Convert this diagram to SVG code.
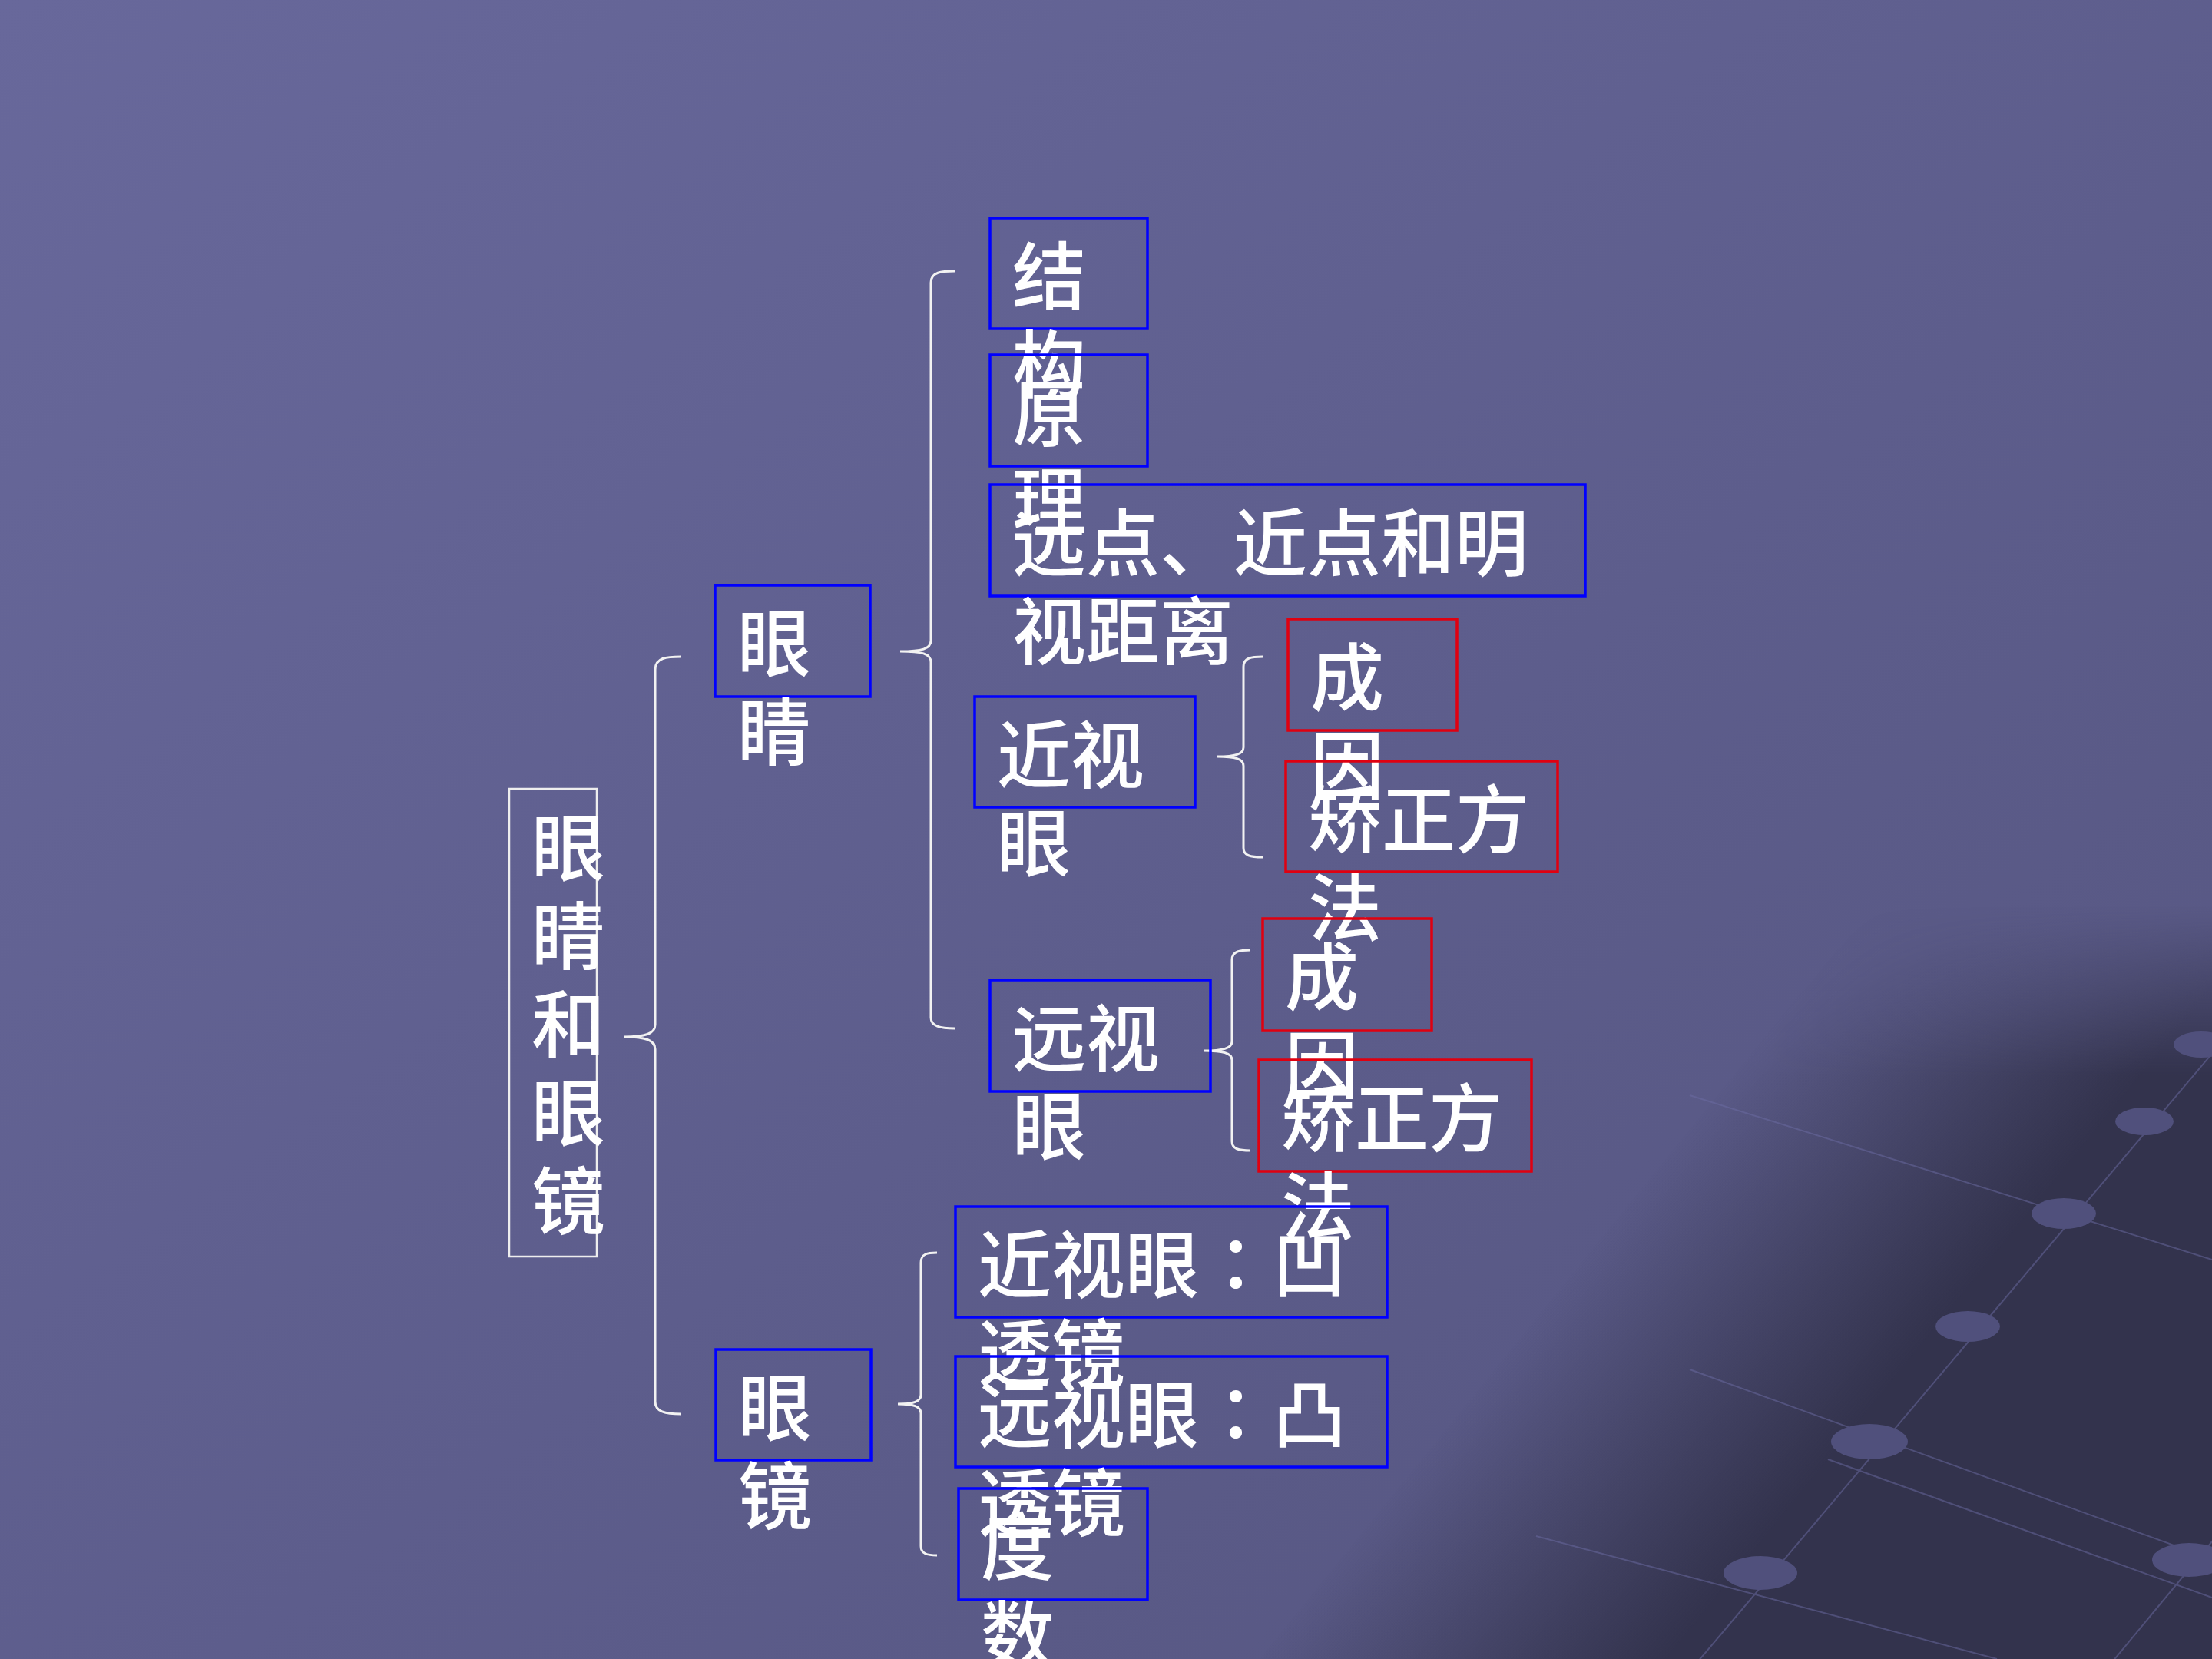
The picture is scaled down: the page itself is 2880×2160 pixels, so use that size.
<svg xmlns="http://www.w3.org/2000/svg" width="2880" height="2160" viewBox="0 0 2880 2160">
<defs>
<linearGradient id="bg" x1="0" y1="0" x2="1" y2="1">
<stop offset="0" stop-color="#68689B"/>
<stop offset="0.55" stop-color="#5D5D8C"/>
<stop offset="1" stop-color="#55557F"/>
</linearGradient>
<linearGradient id="darkdiag" gradientUnits="userSpaceOnUse" x1="2240" y1="1420" x2="2560" y2="1680">
<stop offset="0" stop-color="#33334D" stop-opacity="0"/>
<stop offset="1" stop-color="#33334D" stop-opacity="1"/>
</linearGradient>
<linearGradient id="fadev" gradientUnits="userSpaceOnUse" x1="0" y1="1180" x2="0" y2="1400">
<stop offset="0" stop-color="#000000"/>
<stop offset="1" stop-color="#FFFFFF"/>
</linearGradient>
<mask id="darkmask" maskUnits="userSpaceOnUse" x="0" y="0" width="2880" height="2160">
<rect x="0" y="0" width="2880" height="2160" fill="url(#fadev)"/>
</mask>
<style>
.t{font-family:"Noto Sans CJK SC","Noto Sans CJK JP",sans-serif;font-size:96px;font-weight:500;fill:#FFFFFF}
.c{font-family:"Noto Sans CJK JP","Noto Sans CJK TC",sans-serif}
.nb{fill:none;stroke:#0000FF;stroke-width:3.5}
.nr{fill:none;stroke:#E00010;stroke-width:3.5}
.nw{fill:none;stroke:#EEEEEE;stroke-width:2.5}
.br{fill:none;stroke:#F2F2F2;stroke-width:3}
.gl{stroke:#6C6CA4;stroke-width:2;opacity:0.5;fill:none}
.dot{fill:#50507C}
</style>
</defs>
<g id="background">
<rect x="0" y="0" width="2880" height="2160" fill="url(#bg)"/>
<rect x="0" y="0" width="2880" height="2160" fill="url(#darkdiag)" mask="url(#darkmask)"/>
<g class="gl">
<line x1="2205" y1="2170" x2="2890" y2="1360"/>
<line x1="2745" y1="2170" x2="2890" y2="1995"/>
<line x1="2200" y1="1783" x2="2880" y2="2030"/>
<line x1="2200" y1="1426" x2="2880" y2="1640"/>
<line x1="2380" y1="1900" x2="2880" y2="2080"/>
<line x1="2000" y1="2000" x2="2600" y2="2160"/>
</g>
<g>
<ellipse class="dot" cx="2292" cy="2048" rx="48" ry="22"/>
<ellipse class="dot" cx="2434" cy="1877" rx="50" ry="23"/>
<ellipse class="dot" cx="2562" cy="1727" rx="42" ry="20"/>
<ellipse class="dot" cx="2687" cy="1580" rx="42" ry="20"/>
<ellipse class="dot" cx="2792" cy="1460" rx="38" ry="18"/>
<ellipse class="dot" cx="2866" cy="1360" rx="36" ry="17"/>
<ellipse class="dot" cx="2850" cy="2031" rx="48" ry="22"/>
</g>
</g>
<g id="connectors">
<path class="br" d="M887 855 C868 855 853 856 853 872 L853 1334 C853 1346 840 1350 812 1350 C840 1350 853 1354 853 1366 L853 1825 C853 1838 866 1841 887 1841"/>
<path class="br" d="M1243 353 C1226 353 1212 354 1212 368 L1212 834 C1212 845 1200 848 1172 848 C1200 848 1212 851 1212 862 L1212 1325 C1212 1336 1224 1339 1243 1339"/>
<path class="br" d="M1644 855 C1630 855 1619 856 1619 868 L1619 973 C1619 982 1608 985 1585 985 C1608 985 1619 988 1619 997 L1619 1104 C1619 1114 1628 1116 1644 1116"/>
<path class="br" d="M1628 1237 C1615 1237 1604 1238 1604 1250 L1604 1356 C1604 1365 1592 1368 1567 1368 C1592 1368 1604 1371 1604 1380 L1604 1486 C1604 1496 1613 1498 1628 1498"/>
<path class="br" d="M1220 1631 C1208 1631 1199 1632 1199 1644 L1199 1816 C1199 1825 1189 1828 1169 1828 C1189 1828 1199 1831 1199 1840 L1199 2013 C1199 2023 1207 2025 1220 2025"/>
</g>
<g id="n-root"><rect class="nw" x="663" y="1027" width="114" height="609"/>
<text class="t" x="692" y="1139"><tspan x="692">眼</tspan><tspan x="692" dy="115">睛</tspan><tspan x="692" dy="115">和</tspan><tspan x="692" dy="115">眼</tspan><tspan x="692" dy="115">镜</tspan></text></g>
<g id="n-eye"><rect class="nb" x="931" y="762" width="202" height="145"/>
<text class="t" x="960" y="873"><tspan x="960">眼</tspan><tspan x="960" dy="115">睛</tspan></text></g>
<g id="n-structure"><rect class="nb" x="1289" y="284" width="205" height="144"/>
<text class="t" x="1318" y="395"><tspan x="1318">结</tspan><tspan x="1318" dy="115">构</tspan></text></g>
<g id="n-principle"><rect class="nb" x="1289" y="462" width="205" height="145"/>
<text class="t" x="1318" y="573"><tspan x="1318">原</tspan><tspan x="1318" dy="115">理</tspan></text></g>
<g id="n-points"><rect class="nb" x="1289" y="631" width="775" height="145"/>
<text class="t" x="1318" y="742"><tspan x="1318">远点、近点和明</tspan><tspan x="1318" dy="115">视距离</tspan></text></g>
<g id="n-myopia"><rect class="nb" x="1269" y="907" width="287" height="144"/>
<text class="t" x="1298" y="1018"><tspan x="1298">近视</tspan><tspan x="1298" dy="115">眼</tspan></text></g>
<g id="n-myopia-cause"><rect class="nr" x="1677" y="806" width="220" height="145"/>
<text class="t" x="1706" y="917"><tspan x="1706">成</tspan><tspan x="1706" dy="115">因</tspan></text></g>
<g id="n-myopia-fix"><rect class="nr" x="1674" y="991" width="354" height="144"/>
<text class="t" x="1703" y="1102"><tspan x="1703">矫正方</tspan><tspan x="1703" dy="115">法</tspan></text></g>
<g id="n-hyperopia"><rect class="nb" x="1289" y="1276" width="287" height="145"/>
<text class="t" x="1318" y="1387"><tspan x="1318">远视</tspan><tspan x="1318" dy="115">眼</tspan></text></g>
<g id="n-hyperopia-cause"><rect class="nr" x="1644" y="1196" width="220" height="146"/>
<text class="t" x="1673" y="1307"><tspan x="1673">成</tspan><tspan x="1673" dy="115">因</tspan></text></g>
<g id="n-hyperopia-fix"><rect class="nr" x="1639" y="1380" width="355" height="145"/>
<text class="t" x="1668" y="1491"><tspan x="1668">矫正方</tspan><tspan x="1668" dy="115">法</tspan></text></g>
<g id="n-glasses"><rect class="nb" x="932" y="1757" width="202" height="144"/>
<text class="t" x="961" y="1868"><tspan x="961">眼</tspan><tspan x="961" dy="115">镜</tspan></text></g>
<g id="n-concave"><rect class="nb" x="1244" y="1571" width="562" height="144"/>
<text class="t" x="1273" y="1682"><tspan x="1273">近视眼<tspan class="c">：</tspan>凹</tspan><tspan x="1273" dy="115">透镜</tspan></text></g>
<g id="n-convex"><rect class="nb" x="1244" y="1766" width="562" height="144"/>
<text class="t" x="1273" y="1877"><tspan x="1273">远视眼<tspan class="c">：</tspan>凸</tspan><tspan x="1273" dy="115">透镜</tspan></text></g>
<g id="n-power"><rect class="nb" x="1248" y="1938" width="246" height="145"/>
<text class="t" x="1277" y="2049"><tspan x="1277">度</tspan><tspan x="1277" dy="115">数</tspan></text></g>
</svg>
